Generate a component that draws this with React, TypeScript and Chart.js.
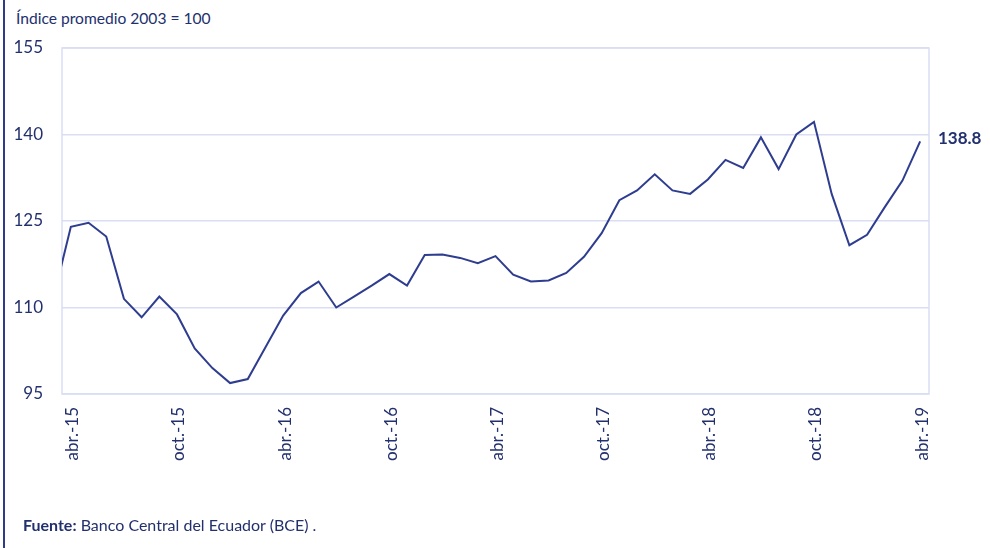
import React, { useEffect, useRef } from "react";
import { Chart, registerables } from "chart.js";

Chart.register(...registerables);

// ---- Data ----
const monthLabels = [
  "abr.-15", "may.-15", "jun.-15", "jul.-15", "ago.-15", "sep.-15", "oct.-15", "nov.-15", "dic.-15",
  "ene.-16", "feb.-16", "mar.-16", "abr.-16", "may.-16", "jun.-16", "jul.-16", "ago.-16", "sep.-16",
  "oct.-16", "nov.-16", "dic.-16",
  "ene.-17", "feb.-17", "mar.-17", "abr.-17", "may.-17", "jun.-17", "jul.-17", "ago.-17", "sep.-17",
  "oct.-17", "nov.-17", "dic.-17",
  "ene.-18", "feb.-18", "mar.-18", "abr.-18", "may.-18", "jun.-18", "jul.-18", "ago.-18", "sep.-18",
  "oct.-18", "nov.-18", "dic.-18",
  "ene.-19", "feb.-19", "mar.-19", "abr.-19",
];

const indexValues = [
  124.0, 124.7, 122.3, 111.5, 108.3, 111.9, 108.8, 102.9, 99.5,
  96.9, 97.6, 103.1, 108.6, 112.5, 114.5, 110.0, 111.9, 113.8,
  115.8, 113.8, 119.1,
  119.2, 118.6, 117.7, 118.9, 115.7, 114.5, 114.7, 116.0, 118.8,
  122.9, 128.6, 130.3,
  133.1, 130.3, 129.7, 132.2, 135.6, 134.2, 139.5, 134.0, 140.0,
  142.2, 129.7, 120.8,
  122.6, 127.4, 132.0, 138.8,
];

// value of the month before the visible window (mar.-15), only its segment is visible
const previousValue = 111.4;

const tickLabels = ["abr.-15", "oct.-15", "abr.-16", "oct.-16", "abr.-17", "oct.-17", "abr.-18", "oct.-18", "abr.-19"];
const yTicks = [95, 110, 125, 140, 155];

const titleText = "Índice promedio 2003 = 100";
const sourceLabel = "Fuente:";
const sourceText = " Banco Central del Ecuador (BCE) .";

// ---- Styles ----
const TEXT = "#22306E";
const LINE = "#2E3D8F";
const GRID = "#D9DEF4";
const FONT = "Lato, 'Open Sans', sans-serif";

export default function App() {
  const canvasRef = useRef<HTMLCanvasElement | null>(null);

  useEffect(() => {
    if (!canvasRef.current) return;
    const points = [{ x: -1, y: previousValue }].concat(
      indexValues.map((v, i) => ({ x: i, y: v }))
    );
    const tickIdx = tickLabels.map((l) => monthLabels.indexOf(l));

    const plotFrame = {
      id: "plotFrame",
      beforeDatasetsDraw(chart: any) {
        const { ctx, chartArea } = chart;
        ctx.save();
        ctx.strokeStyle = GRID;
        ctx.lineWidth = 1.5;
        ctx.strokeRect(chartArea.left, chartArea.top, chartArea.right - chartArea.left, chartArea.bottom - chartArea.top);
        ctx.restore();
      },
    };

    const endLabel = {
      id: "endLabel",
      afterDatasetsDraw(chart: any) {
        const { ctx, chartArea, scales } = chart;
        const last = indexValues[indexValues.length - 1];
        ctx.save();
        ctx.font = `bold 17px ${FONT}`;
        ctx.fillStyle = TEXT;
        ctx.textBaseline = "middle";
        ctx.textAlign = "left";
        ctx.fillText(last.toFixed(1), chartArea.right + 9, scales.y.getPixelForValue(last) - 3);
        ctx.restore();
      },
    };

    const chart = new Chart(canvasRef.current, {
      type: "line",
      data: {
        datasets: [
          {
            data: points,
            borderColor: LINE,
            borderWidth: 2,
            pointRadius: 0,
            tension: 0,
            fill: false,
          },
        ],
      },
      options: {
        animation: false,
        responsive: true,
        maintainAspectRatio: false,
        layout: { padding: { left: 0, top: 48, right: 61, bottom: 0 } },
        plugins: { legend: { display: false }, tooltip: { enabled: false } },
        scales: {
          x: {
            type: "linear",
            min: -0.5,
            max: monthLabels.length - 0.5,
            grid: { display: false, drawTicks: false },
            border: { display: false },
            afterBuildTicks(scale: any) {
              scale.ticks = tickIdx.map((v) => ({ value: v }));
            },
            afterFit(scale: any) {
              scale.height = 548 - 394;
            },
            ticks: {
              autoSkip: false,
              minRotation: 90,
              maxRotation: 90,
              padding: 13,
              labelOffset: 2,
              color: TEXT,
              font: { family: FONT, size: 17 },
              callback: (v: any) => monthLabels[v as number] ?? "",
            },
          },
          y: {
            min: 95,
            max: 155,
            grid: { color: GRID, lineWidth: 1.5, drawTicks: false },
            border: { display: false },
            afterBuildTicks(scale: any) {
              scale.ticks = yTicks.map((v) => ({ value: v }));
            },
            afterFit(scale: any) {
              scale.width = 62;
            },
            ticks: {
              padding: 19,
              color: TEXT,
              font: { family: FONT, size: 17 },
            },
          },
        },
      },
      plugins: [plotFrame, endLabel],
    });
    return () => chart.destroy();
  }, []);

  return (
    <div
      style={{
        position: "absolute",
        left: 0,
        top: 0,
        width: 990,
        height: 548,
        background: "#ffffff",
        overflow: "hidden",
      }}
    >
      <div style={{ position: "absolute", left: 3, top: 0, width: 2, height: 548, background: "#2E3B8C" }} />
      <div
        style={{
          position: "absolute",
          left: 16,
          top: 8,
          lineHeight: "20px",
          fontFamily: FONT,
          fontSize: 15.6,
          color: TEXT,
          whiteSpace: "nowrap",
        }}
      >
        {titleText}
      </div>
      <div style={{ position: "absolute", left: 0, top: 0, width: 990, height: 548 }}>
        <canvas ref={canvasRef} />
      </div>
      <div
        style={{
          position: "absolute",
          left: 23,
          top: 515,
          lineHeight: "20px",
          fontFamily: FONT,
          fontSize: 16,
          color: TEXT,
          whiteSpace: "nowrap",
        }}
      >
        <b>{sourceLabel}</b>
        {sourceText}
      </div>
    </div>
  );
}
